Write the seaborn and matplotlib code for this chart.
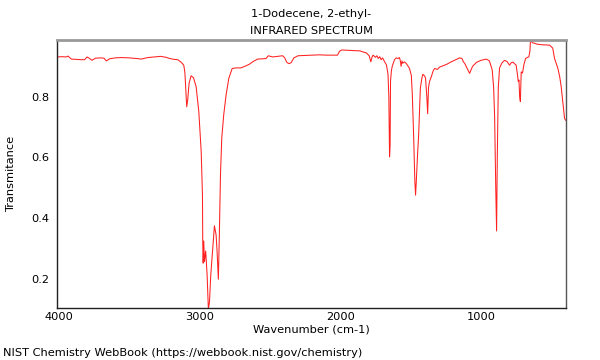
import matplotlib
matplotlib.use("Agg")
import matplotlib.pyplot as plt
import seaborn as sns
import pandas as pd
from matplotlib.ticker import MultipleLocator

title_lines = ["1-Dodecene, 2-ethyl-", "INFRARED SPECTRUM"]
x_label = "Wavenumber (cm-1)"
y_label = "Transmitance"
footer = "NIST Chemistry WebBook (https://webbook.nist.gov/chemistry)"

wavenumber = [4012, 3980, 3950, 3936, 3912, 3880, 3840, 3818, 3801, 3785, 3766, 3740, 3700, 3680,
              3664, 3640, 3600, 3560, 3500, 3450, 3415, 3370, 3320, 3278, 3240, 3214, 3180, 3155,
              3130, 3113, 3105, 3098, 3092, 3085, 3075, 3061, 3044, 3025, 3006, 2989, 2980, 2978,
              2975, 2971, 2966, 2957, 2947, 2938, 2930, 2921, 2907, 2895, 2883, 2876, 2867, 2860,
              2852, 2843, 2829, 2812, 2793, 2769, 2741, 2706, 2670, 2647, 2620, 2588, 2550, 2528,
              2512, 2481, 2446, 2410, 2395, 2380, 2365, 2350, 2330, 2300, 2250, 2200, 2150, 2100,
              2050, 2020, 2005, 1990, 1950, 1900, 1861, 1840, 1814, 1795, 1783, 1775, 1767, 1750,
              1740, 1730, 1720, 1710, 1700, 1685, 1672, 1661, 1655, 1650, 1646, 1643, 1637, 1631,
              1615, 1603, 1590, 1579, 1572, 1568, 1562, 1556, 1545, 1532, 1520, 1508, 1495, 1488,
              1479, 1470, 1465, 1460, 1452, 1443, 1431, 1420, 1413, 1400, 1394, 1385, 1379, 1373,
              1366, 1353, 1340, 1330, 1310, 1293, 1270, 1247, 1211, 1180, 1152, 1135, 1125, 1116,
              1100, 1081, 1060, 1033, 1000, 962, 940, 920, 910, 903, 895, 889, 884, 877, 868, 850,
              832, 815, 797, 785, 773, 760, 750, 740, 735, 730, 725, 720, 714, 705, 695, 683, 668,
              660, 652, 648, 635, 619, 600, 560, 512, 490, 477, 465, 453, 440, 429, 418, 406, 397]

transmittance = [0.931, 0.932, 0.931, 0.934, 0.924, 0.923, 0.922, 0.922, 0.931, 0.927, 0.920, 0.927,
                 0.928, 0.927, 0.918, 0.925, 0.928, 0.929, 0.928, 0.926, 0.924, 0.929, 0.931, 0.933,
                 0.930, 0.926, 0.923, 0.922, 0.913, 0.904, 0.880, 0.820, 0.767, 0.790, 0.845, 0.869,
                 0.863, 0.833, 0.751, 0.619, 0.476, 0.323, 0.252, 0.325, 0.257, 0.292, 0.213, 0.100,
                 0.125, 0.213, 0.301, 0.375, 0.345, 0.290, 0.199, 0.345, 0.542, 0.663, 0.740, 0.806,
                 0.860, 0.893, 0.895, 0.895, 0.902, 0.907, 0.916, 0.924, 0.925, 0.926, 0.935, 0.931,
                 0.933, 0.935, 0.928, 0.913, 0.909, 0.912, 0.928, 0.935, 0.936, 0.937, 0.938, 0.937,
                 0.937, 0.937, 0.950, 0.954, 0.953, 0.952, 0.951, 0.948, 0.944, 0.935, 0.915, 0.930,
                 0.937, 0.930, 0.935, 0.926, 0.932, 0.922, 0.928, 0.915, 0.905, 0.874, 0.800, 0.602,
                 0.640, 0.852, 0.885, 0.900, 0.922, 0.928, 0.926, 0.929, 0.915, 0.900, 0.918, 0.910,
                 0.915, 0.910, 0.902, 0.893, 0.870, 0.806, 0.675, 0.520, 0.476, 0.520, 0.600, 0.675,
                 0.828, 0.862, 0.874, 0.868, 0.861, 0.800, 0.744, 0.830, 0.850, 0.866, 0.885, 0.893,
                 0.890, 0.898, 0.902, 0.906, 0.915, 0.922, 0.928, 0.926, 0.915, 0.910, 0.895, 0.877,
                 0.900, 0.913, 0.920, 0.924, 0.918, 0.888, 0.830, 0.734, 0.500, 0.358, 0.600, 0.830,
                 0.895, 0.912, 0.920, 0.916, 0.904, 0.912, 0.914, 0.908, 0.904, 0.870, 0.850, 0.855,
                 0.800, 0.784, 0.882, 0.878, 0.905, 0.926, 0.930, 0.931, 0.950, 0.987, 0.978, 0.976,
                 0.973, 0.971, 0.970, 0.960, 0.926, 0.910, 0.893, 0.865, 0.830, 0.780, 0.729, 0.722]

df = pd.DataFrame({"wn": wavenumber, "T": transmittance})

sns.set_theme(style="white")
plt.rcParams["font.family"] = ["DejaVu Sans"]
plt.rcParams["text.color"] = "black"
plt.rcParams["axes.labelcolor"] = "black"

FS = 8.2

fig = plt.figure(figsize=(6, 3.6), dpi=100)
ax = fig.add_axes([0.0955, 0.145, 0.8475, 0.744])

sns.lineplot(data=df, x="wn", y="T", ax=ax, color="#ff2020", linewidth=0.75,
             estimator=None, sort=False)

ax.set_xlim(4012, 397)
ax.set_ylim(0.105, 0.987)

ax.xaxis.set_major_locator(MultipleLocator(1000))
ax.xaxis.set_minor_locator(MultipleLocator(100))
ax.yaxis.set_major_locator(MultipleLocator(0.2))
ax.yaxis.set_minor_locator(MultipleLocator(0.05))
ax.tick_params(axis="both", which="major", direction="in", length=4, width=0.8,
               labelsize=FS, colors="black", pad=3)
ax.tick_params(axis="both", which="minor", direction="in", length=2.5, width=0.6, colors="#333333")
ax.tick_params(axis="y", which="major", direction="inout", length=5)

for side in ["left", "bottom"]:
    ax.spines[side].set_color("#222222")
    ax.spines[side].set_linewidth(1.0)
ax.spines["right"].set_color("#555555")
ax.spines["right"].set_linewidth(1.0)
ax.spines["top"].set_color("#999999")
ax.spines["top"].set_linewidth(2.0)

ax.set_xlabel(x_label, fontsize=FS, labelpad=1.5)
ax.set_ylabel(y_label, fontsize=FS, labelpad=11)
ax.set_title("\n".join(title_lines), fontsize=FS, pad=4, linespacing=1.95, color="black")

fig.text(0.005, 0.019, footer, fontsize=FS, ha="left", va="center")

fig.savefig("out.png", dpi=100, facecolor="white")
